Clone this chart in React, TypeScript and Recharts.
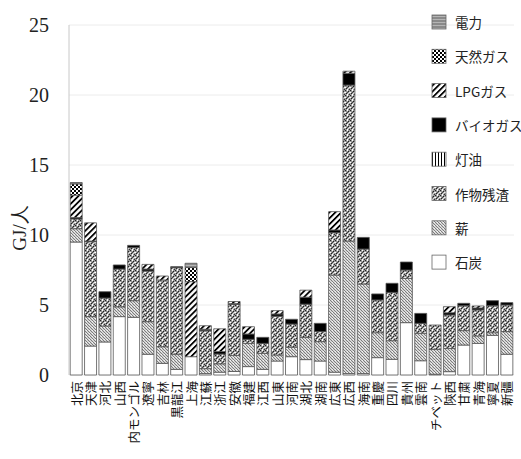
import React from "react";
import { BarChart, Bar, XAxis, YAxis, CartesianGrid } from "recharts";

const provinces = [
  "北京", "天津", "河北", "山西", "内モンゴル", "遼寧", "吉林", "黒龍江", "上海", "江蘇", "浙江",
  "安徽", "福建", "江西", "山東", "河南", "湖北", "湖南", "広東", "広西", "海南", "重慶",
  "四川", "貴州", "雲南", "チベット", "陝西", "甘粛", "青海", "寧夏", "新疆",
];

// GJ per person, by energy source
const coal = [9.5, 2.07, 2.36, 4.17, 4.12, 1.48, 0.83, 0.4, 1.31, 0.1, 0.2, 0.25, 0.6, 0.4, 1.0, 1.31, 1.1, 1.0, 0.2, 0.1, 0.1, 1.24, 1.12, 3.74, 1.02, 0.05, 0.24, 2.14, 2.26, 2.83, 1.48];
const firewood = [0.95, 2.1, 1.14, 0.7, 1.19, 2.33, 1.19, 1.08, 0, 0.35, 0.6, 1.15, 1.66, 1.15, 0.43, 0.67, 1.58, 1.38, 6.94, 9.47, 6.4, 1.78, 1.33, 3.16, 1.96, 1.78, 1.66, 1.03, 0.53, 0.19, 1.62];
const residue = [0.7, 5.35, 2.0, 2.7, 3.8, 3.62, 4.77, 6.19, 0, 2.72, 0.7, 3.65, 0.29, 0.71, 2.77, 1.66, 2.38, 0.72, 3.03, 11.14, 2.5, 2.34, 3.45, 0.6, 0.71, 1.74, 2.39, 1.78, 1.86, 1.93, 1.9];
const kerosene = [0, 0, 0, 0, 0, 0, 0, 0, 0, 0, 0, 0, 0, 0, 0, 0, 0, 0, 0, 0, 0, 0, 0, 0, 0, 0, 0, 0, 0, 0, 0];
const biogas = [0.1, 0.05, 0.45, 0.29, 0.15, 0.14, 0, 0.07, 0, 0.1, 0.18, 0.05, 0.38, 0.43, 0.16, 0.34, 0.5, 0.59, 0.19, 0.84, 0.83, 0.43, 0.65, 0.57, 0.71, 0, 0.16, 0.17, 0.14, 0.36, 0.17];
const lpg = [1.6, 1.3, 0, 0, 0, 0.33, 0.28, 0, 5.36, 0.25, 1.62, 0.15, 0.52, 0, 0.24, 0, 0.5, 0, 1.31, 0.15, 0, 0, 0, 0, 0, 0, 0.43, 0, 0.14, 0, 0];
const natGas = [0.8, 0, 0, 0, 0, 0, 0, 0, 1.02, 0, 0, 0, 0, 0, 0, 0, 0, 0, 0, 0, 0, 0, 0, 0, 0, 0, 0, 0, 0, 0, 0];
const power = [0.1, 0, 0, 0, 0, 0, 0, 0, 0.29, 0, 0, 0, 0, 0, 0, 0, 0, 0, 0, 0, 0, 0, 0, 0, 0, 0, 0, 0, 0, 0, 0];

const yTicks = [0, 5, 10, 15, 20, 25];

// stack order, bottom to top
const series = [
  { key: "coal", name: "石炭", fill: "#ffffff" },
  { key: "firewood", name: "薪", fill: "url(#pFire)" },
  { key: "residue", name: "作物残渣", fill: "url(#pResidue)" },
  { key: "kerosene", name: "灯油", fill: "url(#pKero)" },
  { key: "biogas", name: "バイオガス", fill: "#000000" },
  { key: "lpg", name: "LPGガス", fill: "url(#pLpg)" },
  { key: "natGas", name: "天然ガス", fill: "url(#pGas)" },
  { key: "power", name: "電力", fill: "url(#pPower)" },
];

const data = provinces.map((name, i) => ({
  name,
  coal: coal[i],
  firewood: firewood[i],
  residue: residue[i],
  kerosene: kerosene[i],
  biogas: biogas[i],
  lpg: lpg[i],
  natGas: natGas[i],
  power: power[i],
}));

const serif = "'Liberation Serif', 'Times New Roman', serif";
const gothic = "'Noto Sans CJK JP', 'DejaVu Sans', sans-serif";

function ProvinceTick({ x, y, payload }: any) {
  return (
    <text
      x={x}
      y={y}
      transform={`rotate(-90, ${x}, ${y})`}
      textAnchor="end"
      dominantBaseline="central"
      fontSize={12.5}
      fontFamily={gothic}
      fill="#111"
    >
      {payload.value}
    </text>
  );
}

export default function App() {
  const legendItems = [...series].reverse();
  return (
    <div style={{ position: "absolute", left: 0, top: 0, background: "#fff" }}>
      <BarChart
        width={521}
        height={459}
        data={data}
        margin={{ top: 25, right: 7, left: 0, bottom: 0 }}
        barCategoryGap={1.2}
      >
        <defs>
          <pattern id="pFire" width="3" height="3" patternUnits="userSpaceOnUse">
            <rect width="3" height="3" fill="#d6d6d6" />
            <rect x="0" y="0" width="1" height="1" fill="#7c7c7c" />
            <rect x="1" y="1" width="1" height="1" fill="#7c7c7c" />
            <rect x="2" y="2" width="1" height="1" fill="#7c7c7c" />
            <rect x="2" y="0" width="1" height="1" fill="#f2f2f2" />
          </pattern>
          <pattern id="pResidue" width="5" height="5" patternUnits="userSpaceOnUse">
            <rect width="5" height="5" fill="#999" />
            <rect x="0" y="0" width="1" height="1" fill="#222" />
            <rect x="3" y="1" width="1" height="1" fill="#222" />
            <rect x="1" y="3" width="1" height="1" fill="#222" />
            <rect x="4" y="4" width="1" height="1" fill="#333" />
            <rect x="2" y="2" width="1" height="1" fill="#444" />
            <rect x="2" y="0" width="1" height="1" fill="#fff" />
            <rect x="0" y="2" width="1" height="1" fill="#fff" />
            <rect x="4" y="2" width="1" height="1" fill="#eee" />
            <rect x="2" y="4" width="1" height="1" fill="#fff" />
            <rect x="3" y="3" width="1" height="1" fill="#ddd" />
          </pattern>
          <pattern id="pKero" width="3" height="3" patternUnits="userSpaceOnUse">
            <rect width="3" height="3" fill="#fff" />
            <rect x="0" width="1" height="3" fill="#000" />
          </pattern>
          <pattern id="pLpg" width="4.2" height="10" patternUnits="userSpaceOnUse" patternTransform="rotate(45)">
            <rect width="4.2" height="10" fill="#fff" />
            <rect x="0" width="1.8" height="10" fill="#000" />
          </pattern>
          <pattern id="pGas" width="4" height="4" patternUnits="userSpaceOnUse">
            <rect width="4" height="4" fill="#fff" />
            <rect x="0" y="0" width="2" height="2" fill="#000" />
            <rect x="2" y="2" width="2" height="2" fill="#000" />
          </pattern>
          <pattern id="pPower" width="3" height="3" patternUnits="userSpaceOnUse">
            <rect width="3" height="3" fill="#8a8a8a" />
            <rect y="1" width="3" height="1" fill="#b5b5b5" />
          </pattern>
        </defs>
        <CartesianGrid vertical={false} stroke="#ececec" />
        <XAxis
          dataKey="name"
          interval={0}
          axisLine={false}
          tickLine={false}
          tickSize={0}
          tickMargin={6}
          height={84}
          tick={<ProvinceTick />}
        />
        <YAxis
          domain={[0, 25]}
          ticks={yTicks}
          width={69}
          tickLine={false}
          tickMargin={14}
          axisLine={{ stroke: "#c8c8c8" }}
          tick={{ fontSize: 20, fontFamily: serif, fill: "#222" }}
        />
        {series.map((s) => (
          <Bar
            key={s.key}
            dataKey={s.key}
            name={s.name}
            stackId="e"
            fill={s.fill}
            stroke="#555"
            strokeWidth={0.8}
            isAnimationActive={false}
          />
        ))}
        <text
          x={19}
          y={228}
          transform="rotate(-90, 19, 228)"
          textAnchor="middle"
          dominantBaseline="central"
          fontSize={19}
          fontFamily={serif}
          fill="#222"
        >
          GJ/人
        </text>
        {legendItems.map((s, i) => {
          const cy = 22 + i * 34.3;
          return (
            <g key={s.key}>
              <rect x={432} y={cy - 7} width={14} height={14} fill={s.fill} stroke="#666" strokeWidth={0.8} />
              <text
                x={455}
                y={cy}
                dominantBaseline="central"
                fontSize={13.5}
                fontFamily={gothic}
                fill="#222"
              >
                {s.name}
              </text>
            </g>
          );
        })}
      </BarChart>
    </div>
  );
}
